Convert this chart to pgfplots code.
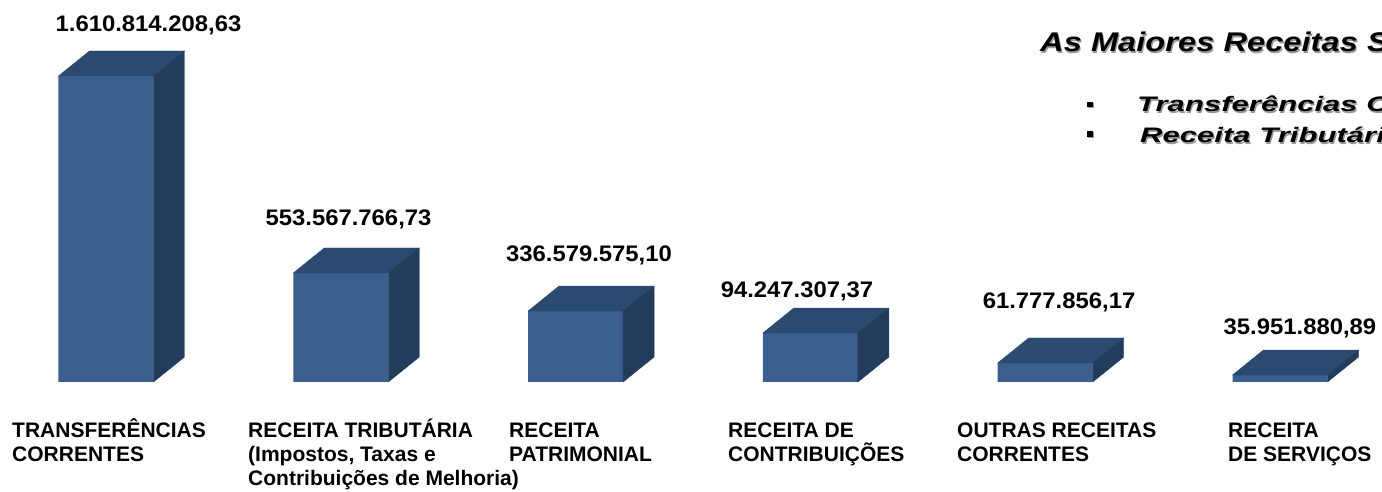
\documentclass[border=0pt]{standalone}
\usepackage{fontspec}
\setmainfont{Liberation Sans}
\newfontfamily\titlefont[FakeStretch=1.21]{Liberation Sans}
\newfontfamily\bulletfont[FakeStretch=1.48]{Liberation Sans}
\newfontfamily\valfont[FakeStretch=1.06]{Liberation Sans}
\usepackage{pgfplots}
\pgfplotsset{compat=1.18}
\pgfdeclareplotmark{nothing}{}
\definecolor{frontc}{HTML}{3A5F8E}
\definecolor{topc}{HTML}{2A4A70}
\definecolor{sidec}{HTML}{243C5C}
\begin{document}
\begin{tikzpicture}
\useasboundingbox (0pt,0pt) rectangle (1382pt,491pt);
\clip (0pt,0pt) rectangle (1382pt,491pt);
\begin{axis}[
  at={(0pt,0pt)}, anchor=south west,
  scale only axis, width=1382pt, height=491pt,
  xmin=-0.4514, xmax=5.4344, ymin=-573.8, ymax=2010.8,
  hide axis, clip=false,
]
% front faces (heights as drawn, in millions)
\addplot[ybar, bar width=95pt, fill=frontc, draw=none]
  coordinates {(0,1610.8) (1,573.8) (2,373.7) (3,257.9) (4,100) (5,36.8)};
% top and side faces
\addplot[scatter, only marks, mark=nothing,
  visualization depends on={rawy \as \hv},
  scatter/@pre marker code/.code={%
    \pgfmathsetmacro\hp{\hv*0.18997}%
    \fill[topc] (-47.5pt,0pt) -- (47.5pt,0pt) -- (78.5pt,25pt) -- (-16.5pt,25pt) -- cycle;
    \fill[sidec] (47.5pt,0pt) -- (78.5pt,25pt) -- (78.5pt,{25pt-\hp pt}) -- (47.5pt,{-\hp pt}) -- cycle;
  },
  scatter/@post marker code/.code={}]
  coordinates {(0,1610.8) (1,573.8) (2,373.7) (3,257.9) (4,100) (5,36.8)};
% value labels
\addplot[scatter, only marks, mark=nothing, point meta=explicit symbolic,
  scatter/@pre marker code/.code={%
    \node[anchor=base, inner sep=0pt, font=\valfont\fontsize{22.5}{26}\selectfont\bfseries] at (0pt,0pt) {\pgfplotspointmeta};
  },
  scatter/@post marker code/.code={}]
  coordinates {
    (0.181,1842.4) [1.610.814.208,63]
    (1.033,821.2) [553.567.766,73]
    (2.057,631.7) [336.579.575,10]
    (2.943,442.2) [94.247.307,37]
    (4.059,389.5) [61.777.856,17]
    (5.085,247.4) [35.951.880,89]
  };
% category labels (anchored at the baseline of their last line)
\addplot[scatter, only marks, mark=nothing, point meta=explicit symbolic,
  scatter/@pre marker code/.code={%
    \node[anchor=base west, inner sep=0pt, align=left, font=\fontsize{21}{24}\selectfont\bfseries] at (0pt,0pt) {\pgfplotspointmeta};
  },
  scatter/@post marker code/.code={}]
  coordinates {
    (-0.4003,-421.1) [TRANSFERÊNCIAS\\CORRENTES]
    (0.6048,-547.4) [RECEITA TRIBUTÁRIA\\(Impostos, Taxas e\\Contribuições de Melhoria)]
    (1.7164,-421.1) [RECEITA\\PATRIMONIAL]
    (2.6491,-421.1) [RECEITA DE\\CONTRIBUIÇÕES]
    (3.6244,-421.1) [OUTRAS RECEITAS\\CORRENTES]
    (4.7785,-421.1) [RECEITA\\DE SERVIÇOS]
  };
\end{axis}
% title block (cut by the right edge as in the reference)
\node[anchor=base west, inner sep=0pt, text=black!40, font=\titlefont\fontsize{27}{30}\selectfont\bfseries\itshape] at (1041.2pt,437.8pt) {As Maiores Receitas São:};
\node[anchor=base west, inner sep=0pt, font=\titlefont\fontsize{27}{30}\selectfont\bfseries\itshape] at (1040pt,439pt) {As Maiores Receitas São:};
\fill[black!40] (1087.7pt,382.5pt) rectangle (1094.3pt,388.3pt);
\fill (1086.7pt,383.5pt) rectangle (1093.3pt,389.3pt);
\fill[black!40] (1087.7pt,353pt) rectangle (1094.3pt,358.5pt);
\fill (1086.7pt,354pt) rectangle (1093.3pt,359.5pt);
\node[anchor=base west, inner sep=0pt, text=black!40, font=\bulletfont\fontsize{21}{24}\selectfont\bfseries\itshape] at (1138.2pt,377.8pt) {Transferências Correntes};
\node[anchor=base west, inner sep=0pt, font=\bulletfont\fontsize{21}{24}\selectfont\bfseries\itshape] at (1137pt,379pt) {Transferências Correntes};
\node[anchor=base west, inner sep=0pt, text=black!40, font=\bulletfont\fontsize{21}{24}\selectfont\bfseries\itshape] at (1141.2pt,346.8pt) {Receita Tributária};
\node[anchor=base west, inner sep=0pt, font=\bulletfont\fontsize{21}{24}\selectfont\bfseries\itshape] at (1140pt,348pt) {Receita Tributária};
\end{tikzpicture}
\end{document}
